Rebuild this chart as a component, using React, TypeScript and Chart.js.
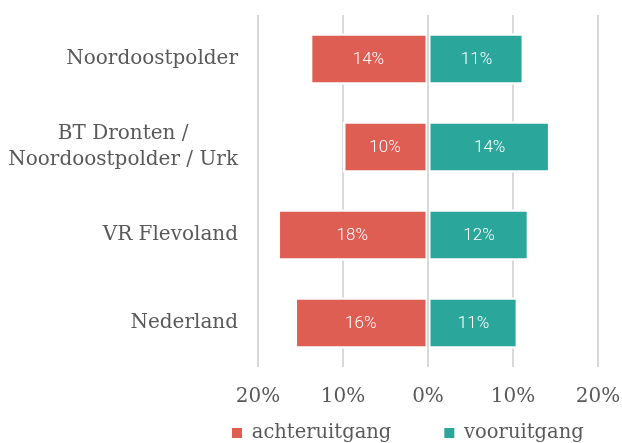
import React, { useEffect, useRef } from "react";
import { Chart, registerables } from "chart.js";

Chart.register(...registerables);

// ---- data ----
const categories: (string | string[])[] = [
  "Noordoostpolder",
  ["BT Dronten /", "Noordoostpolder / Urk"],
  "VR Flevoland",
  "Nederland",
];
const achteruitgang = [13.9, 10.0, 17.7, 15.7];
const vooruitgang = [11.3, 14.4, 11.9, 10.6];
const seriesNames = ["achteruitgang", "vooruitgang"];
const xMin = -20;
const xMax = 20;
const xStep = 10;

// ---- styles ----
const RED = "#DE5E53";
const TEAL = "#2AA69A";
const GRID = "#d9d9d9";
const TEXT = "#595959";
const SERIF = "'DejaVu Serif', serif";
const SANS = "Roboto, 'Noto Sans', sans-serif";
const LEGEND_PAD = 53;
const LEGEND_FONT = 19.5;

const categoryLabelPlugin = {
  id: "categoryLabels",
  afterDraw(chart: any) {
    const { ctx } = chart;
    const yScale = chart.scales.y;
    const rightEdge = chart.chartArea.left - 20;
    const lineHeight = 26;
    ctx.save();
    ctx.font = `20px ${SERIF}`;
    ctx.fillStyle = TEXT;
    ctx.textAlign = "center";
    ctx.textBaseline = "middle";
    categories.forEach((cat, i) => {
      const lines = Array.isArray(cat) ? cat : [cat];
      const widest = Math.max(...lines.map((l) => ctx.measureText(l).width));
      const cx = rightEdge - widest / 2;
      const cy = yScale.getPixelForValue(i);
      lines.forEach((line, j) => {
        const ly = cy + (j - (lines.length - 1) / 2) * lineHeight;
        ctx.fillText(line, cx, ly);
      });
    });
    ctx.restore();
  },
};

const barLabelPlugin = {
  id: "barLabels",
  afterDatasetsDraw(chart: any) {
    const { ctx, chartArea } = chart;
    const xScale = chart.scales.x;
    // zero axis line drawn on top of the bars
    const x0 = Math.round(xScale.getPixelForValue(0));
    ctx.save();
    ctx.strokeStyle = GRID;
    ctx.lineWidth = 2;
    ctx.beginPath();
    ctx.moveTo(x0, chartArea.top);
    ctx.lineTo(x0, chartArea.bottom);
    ctx.stroke();

    ctx.font = `300 17px ${SANS}`;
    ctx.fillStyle = "#ffffff";
    ctx.textAlign = "center";
    ctx.textBaseline = "middle";
    chart.data.datasets.forEach((ds: any, di: number) => {
      const meta = chart.getDatasetMeta(di);
      meta.data.forEach((bar: any, i: number) => {
        const v = Math.abs(ds.data[i]);
        const cx = (bar.x + bar.base) / 2;
        ctx.fillText(`${Math.round(v)}%`, cx, bar.y + 1);
      });
    });
    ctx.restore();
  },
};

const legendShiftPlugin = {
  id: "legendShift",
  afterLayout(chart: any) {
    const lg = chart.legend;
    if (!lg || !lg.lineWidths) return;
    const pad = lg.options.labels.padding;
    const x0 = (lg.left + pad + lg.right - lg.lineWidths[0]) / 2;
    const dx = 232 - x0;
    lg.left += dx;
    lg.right += dx;
    const itemHeight = Math.max(LEGEND_FONT, 10);
    lg.top = 433 - pad - itemHeight / 2;
    lg.bottom = chart.height + 30;
    lg.height = lg.bottom - lg.top;
  },
};

export default function App() {
  const canvasRef = useRef<HTMLCanvasElement | null>(null);

  useEffect(() => {
    if (!canvasRef.current) return;
    const chart = new Chart(canvasRef.current, {
      type: "bar",
      data: {
        labels: categories as any,
        datasets: [
          {
            label: seriesNames[0],
            data: achteruitgang.map((v) => -v),
            backgroundColor: RED,
            borderColor: "#ffffff",
            borderWidth: { top: 2.5, bottom: 2.5, left: 2.5, right: 1.5 } as any,
            borderSkipped: false,
            barPercentage: 0.583,
            categoryPercentage: 1,
          },
          {
            label: seriesNames[1],
            data: vooruitgang,
            backgroundColor: TEAL,
            borderColor: "#ffffff",
            borderWidth: { top: 2.5, bottom: 2.5, left: 1.5, right: 2.5 } as any,
            borderSkipped: false,
            barPercentage: 0.583,
            categoryPercentage: 1,
          },
        ],
      },
      options: {
        indexAxis: "y",
        animation: false,
        responsive: true,
        maintainAspectRatio: false,
        layout: { padding: { top: 15, right: 24, left: 0, bottom: 0 } },
        scales: {
          x: {
            stacked: true,
            min: xMin,
            max: xMax,
            border: { display: false },
            grid: { color: GRID, lineWidth: 2, drawTicks: false },
            ticks: {
              stepSize: xStep,
              padding: 18,
              color: TEXT,
              font: { family: SERIF, size: 20 },
              callback: (v: any) => `${Math.abs(Number(v))}%`,
            },
            afterFit: (s: any) => {
              s.height = 45;
              s.paddingLeft = 0;
              s.paddingRight = 0;
            },
          },
          y: {
            stacked: true,
            border: { display: false },
            grid: { display: false, drawTicks: false },
            ticks: { display: false },
            afterFit: (s: any) => {
              s.width = 258;
            },
          },
        },
        plugins: {
          legend: {
            position: "bottom",
            maxHeight: 31,
            labels: {
              boxWidth: 10,
              boxHeight: 10,
              padding: LEGEND_PAD,
              color: TEXT,
              font: { family: SERIF, size: LEGEND_FONT },
              generateLabels: (c: any) =>
                Chart.defaults.plugins.legend.labels
                  .generateLabels(c)
                  .map((l: any) => ({ ...l, lineWidth: 0, strokeStyle: "rgba(0,0,0,0)" })),
            },
          },
          tooltip: { enabled: false },
        },
      },
      plugins: [categoryLabelPlugin, barLabelPlugin, legendShiftPlugin],
    });
    return () => chart.destroy();
  }, []);

  return (
    <div style={{ position: "absolute", left: 0, top: 0, width: 622, height: 443 }}>
      <canvas ref={canvasRef} />
    </div>
  );
}
